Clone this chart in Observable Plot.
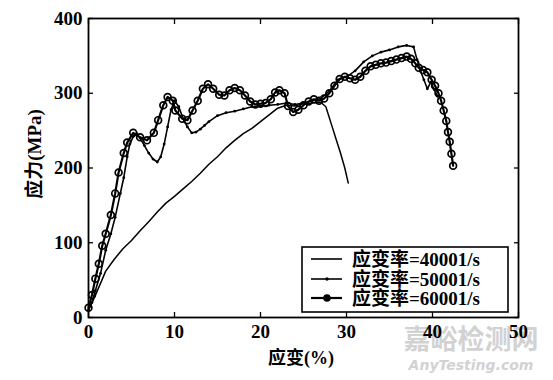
<!DOCTYPE html>
<html>
<head>
<meta charset="utf-8">
<script src="https://cdn.jsdelivr.net/npm/d3@7"></script>
<script src="https://cdn.jsdelivr.net/npm/@observablehq/plot@0.6"></script>
<style>
  html, body { margin: 0; padding: 0; background: white; }
  #chart { position: relative; width: 553px; height: 380px; }
</style>
</head>
<body>
<div id="chart"></div>
<script>
// ---- data ----
const strain40 = [0, 0.5, 1, 2, 3, 4, 5, 6, 7, 8, 9, 10, 11, 12, 13, 14, 15, 16, 17, 18, 19, 20, 21, 22, 23, 24, 25, 26, 27, 27.6, 28.2, 28.8, 29.3, 29.8, 30.2];
const stress40 = [10, 22, 35, 62, 78, 92, 103, 116, 128, 141, 153, 162, 172, 182, 193, 205, 215, 227, 237, 246, 253, 262, 271, 280, 284, 283, 286, 287, 288, 282, 260, 238, 220, 200, 180];

const strain50 = [0, 0.4, 0.8, 1.4, 2.0, 2.6, 3.1, 3.7, 4.1, 4.5, 4.8, 5.2, 5.6, 6.0, 6.5, 7.0, 7.5, 8.0, 8.4, 8.8, 9.2, 9.6, 10.0, 10.5, 11.0, 11.5, 12.0, 12.5, 13.0, 13.5, 14.0, 15.0, 16.0, 17.0, 18.0, 19.0, 20.0, 21.0, 22.0, 23.0, 24.0, 25.0, 26.0, 27.0, 28.0, 29.0, 30.0, 31.0, 32.0, 33.0, 34.0, 35.0, 36.0, 37.0, 37.8, 38.2, 38.6, 39.0, 39.4, 39.8, 40.2, 40.6];
const stress50 = [10, 20, 36, 59, 90, 112, 134, 166, 187, 215, 232, 242, 246, 240, 230, 220, 212, 208, 215, 232, 255, 278, 290, 282, 266, 255, 247, 248, 252, 257, 262, 270, 274, 276, 279, 282, 283, 284, 285, 287, 285, 287, 290, 293, 303, 318, 322, 330, 342, 350, 355, 358, 362, 364, 362, 345, 330, 318, 306, 315, 305, 296];

const strain60 = [0, 0.4, 0.8, 1.2, 1.6, 2.0, 2.6, 3.1, 3.5, 4.1, 4.5, 5.2, 6.0, 6.8, 7.6, 8.1, 8.7, 9.2, 9.8, 10.1, 10.9, 11.5, 12.1, 12.7, 13.3, 13.9, 14.5, 15.2, 15.8, 16.4, 17.0, 17.6, 18.2, 18.8, 19.4, 20.0, 20.6, 21.2, 21.7, 22.2, 22.8, 23.2, 23.8, 24.4, 25.0, 25.6, 26.2, 26.8, 27.4, 28.0, 28.6, 29.2, 29.8, 30.4, 31.0, 31.6, 32.2, 32.8, 33.4, 34.0, 34.6, 35.2, 35.8, 36.4, 37.0, 37.5, 38.0, 38.4, 38.9, 39.4, 39.9, 40.3, 40.7, 41.0, 41.3, 41.6, 41.8, 42.0, 42.2, 42.4];
const stress60 = [13, 30, 52, 72, 96, 112, 137, 166, 194, 220, 234, 247, 241, 237, 247, 264, 284, 295, 290, 277, 266, 264, 277, 290, 306, 312, 306, 298, 297, 304, 307, 304, 297, 289, 285, 286, 287, 292, 301, 304, 300, 283, 275, 278, 284, 289, 292, 290, 293, 300, 310, 319, 322, 320, 318, 322, 330, 336, 338, 340, 341, 343, 345, 347, 349, 346, 340, 334, 331, 328, 318, 310, 300, 290, 277, 263, 248, 235, 219, 203];

const xTicks = [0, 10, 20, 30, 40, 50];
const yTicks = [0, 100, 200, 300, 400];
const seriesLabels = ["应变率=40001/s", "应变率=50001/s", "应变率=60001/s"];
const xLabel = "应变(%)";
const yLabel = "应力(MPa)";

const d40 = strain40.map((x, i) => ({x, y: stress40[i]}));
const d50 = strain50.map((x, i) => ({x, y: stress50[i]}));
const d60 = strain60.map((x, i) => ({x, y: stress60[i]}));

const FONT = "'Liberation Serif', 'Times New Roman', 'Noto Sans CJK SC', serif";

const chart = Plot.plot({
  width: 553,
  height: 380,
  marginLeft: 88,
  marginRight: 35,
  marginTop: 18,
  marginBottom: 63,
  style: {fontFamily: FONT, fontSize: "19px", fontWeight: "bold", background: "white", color: "black"},
  x: {domain: [0, 50]},
  y: {domain: [0, 400]},
  marks: [
    Plot.axisX({ticks: xTicks, tickSize: -5, tickPadding: 12, tickFormat: d => String(d), label: null, strokeWidth: 1.3}),
    Plot.axisX({anchor: "top", ticks: xTicks, tickSize: -5, tickFormat: () => "", label: null, strokeWidth: 1.3}),
    Plot.axisY({ticks: yTicks, tickSize: -5, tickPadding: 11, tickFormat: d => String(d), label: null, strokeWidth: 1.3}),
    Plot.axisY({anchor: "right", ticks: yTicks, tickSize: -5, tickFormat: () => "", label: null, strokeWidth: 1.3}),
    Plot.line(d40, {x: "x", y: "y", stroke: "black", strokeWidth: 1.5}),
    Plot.line(d50, {x: "x", y: "y", stroke: "black", strokeWidth: 1.6}),
    Plot.dot(d50, {x: "x", y: "y", r: 1.4, fill: "black"}),
    Plot.line(d60, {x: "x", y: "y", stroke: "black", strokeWidth: 2.2}),
    Plot.dot(d60, {x: "x", y: "y", r: 3.4, stroke: "black", fill: "none", strokeWidth: 1.7}),
    Plot.frame({stroke: "black", strokeWidth: 1.8})
  ]
});

document.getElementById("chart").appendChild(chart);

// axis titles, legend, watermark (layout only)
const svg = d3.select(chart);

// watermark underneath everything
const wm = svg.insert("g", ":first-child");
wm.append("text").attr("x", 471).attr("y", 349).attr("text-anchor", "middle")
  .style("font-family", "'Noto Sans CJK SC', sans-serif").style("font-size", "27px").style("font-weight", "bold")
  .attr("fill", "#d2d2d2")
  .text("嘉峪检测网");
wm.append("text").attr("x", 471).attr("y", 370).attr("text-anchor", "middle")
  .style("font-family", "'DejaVu Sans', sans-serif").style("font-size", "14px").style("font-style", "italic").style("font-weight", "bold")
  .attr("fill", "#d2d2d2")
  .text("AnyTesting.com");

svg.append("text")
  .attr("x", 301).attr("y", 364)
  .attr("text-anchor", "middle")
  .style("font-family", FONT).style("font-size", "18px").style("font-weight", "bold")
  .text(xLabel);

svg.append("text")
  .attr("transform", "translate(41,154) rotate(-90)")
  .attr("text-anchor", "middle")
  .style("font-family", FONT).style("font-size", "19px").style("font-weight", "bold")
  .text(yLabel);

const lg = svg.append("g");
lg.append("rect")
  .attr("x", 302).attr("y", 247).attr("width", 206).attr("height", 65)
  .attr("fill", "white").attr("stroke", "black").attr("stroke-width", 1.6);
const rowsY = [259, 279, 298];
rowsY.forEach((ry, i) => {
  lg.append("line").attr("x1", 311).attr("x2", 342).attr("y1", ry).attr("y2", ry)
    .attr("stroke", "black").attr("stroke-width", i === 2 ? 2.2 : 1.6);
  if (i === 1) lg.append("circle").attr("cx", 327).attr("cy", ry).attr("r", 1.7).attr("fill", "black");
  if (i === 2) lg.append("circle").attr("cx", 327).attr("cy", ry).attr("r", 3.8).attr("fill", "black");
  lg.append("text").attr("x", 352).attr("y", ry + 6.5)
    .attr("text-anchor", "start")
    .style("font-family", FONT).style("font-size", "19px").style("font-weight", "bold")
    .text(seriesLabels[i]);
});
</script>
</body>
</html>
